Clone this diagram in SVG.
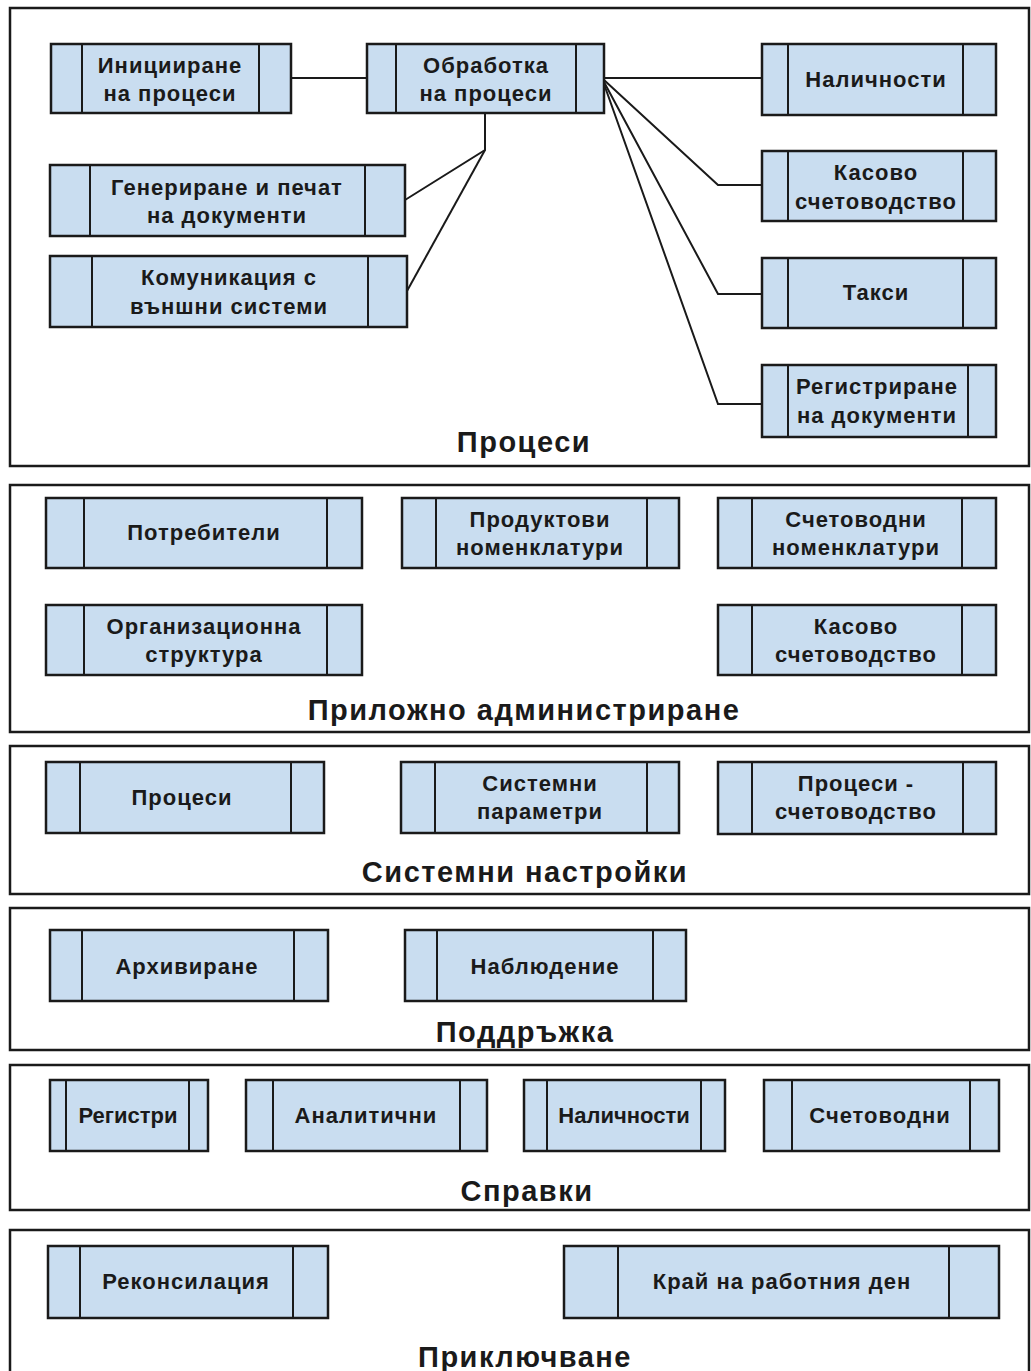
<svg xmlns="http://www.w3.org/2000/svg" width="1031" height="1371" viewBox="0 0 1031 1371">
<defs>
<style>
.frame{fill:#ffffff;stroke:#1a1a1a;stroke-width:2.5}
.box{fill:#c9ddf0;stroke:#1a1a1a;stroke-width:2.5}
.div{stroke:#1a1a1a;stroke-width:2}
.t{font-family:"Liberation Sans",Arial,sans-serif;font-size:22px;font-weight:bold;fill:#1a1a1a;text-anchor:middle;letter-spacing:1px}
.h{font-family:"Liberation Sans",Arial,sans-serif;font-size:29px;font-weight:bold;fill:#1a1a1a;text-anchor:middle;letter-spacing:1.5px}
.c{fill:none;stroke:#1a1a1a;stroke-width:2}
</style>
</defs>
<rect width="1031" height="1371" fill="#ffffff"/>

<!-- section frames -->
<g id="sec-procesi"><rect class="frame" x="10" y="8" width="1019" height="458"/><text class="h" x="524" y="452">Процеси</text></g>
<g id="sec-prilozhno"><rect class="frame" x="10" y="485" width="1019" height="247"/><text class="h" x="524" y="720">Приложно администриране</text></g>
<g id="sec-sistemni"><rect class="frame" x="10" y="746" width="1019" height="148"/><text class="h" x="525" y="882">Системни настройки</text></g>
<g id="sec-poddruzhka"><rect class="frame" x="10" y="908" width="1019" height="142"/><text class="h" x="525" y="1042">Поддръжка</text></g>
<g id="sec-spravki"><rect class="frame" x="10" y="1065" width="1019" height="145"/><text class="h" x="527" y="1201">Справки</text></g>
<g id="sec-prikluchvane"><rect class="frame" x="10" y="1230" width="1019" height="160"/><text class="h" x="525" y="1367">Приключване</text></g>

<!-- connectors -->
<g id="connectors">
<line class="c" x1="291" y1="78" x2="367" y2="78"/>
<polyline class="c" points="485,113 485,150 405,200"/>
<polyline class="c" points="485,150 407,291"/>
<line class="c" x1="604" y1="78" x2="762" y2="78"/>
<polyline class="c" points="604,80 718,185 762,185"/>
<polyline class="c" points="604,82 718,294 762,294"/>
<polyline class="c" points="604,84 718,404 762,404"/>
</g>

<!-- Процеси nodes -->
<g id="n-iniciirane"><rect class="box" x="51" y="44" width="240" height="69"/><line class="div" x1="82" y1="44" x2="82" y2="113"/><line class="div" x1="259" y1="44" x2="259" y2="113"/><text class="t" x="170" y="73">Иницииране</text><text class="t" x="170" y="101">на процеси</text></g>
<g id="n-obrabotka"><rect class="box" x="367" y="44" width="237" height="69"/><line class="div" x1="396" y1="44" x2="396" y2="113"/><line class="div" x1="576" y1="44" x2="576" y2="113"/><text class="t" x="486" y="73">Обработка</text><text class="t" x="486" y="101">на процеси</text></g>
<g id="n-nalichnosti1"><rect class="box" x="762" y="44" width="234" height="71"/><line class="div" x1="788" y1="44" x2="788" y2="115"/><line class="div" x1="963" y1="44" x2="963" y2="115"/><text class="t" x="876" y="87">Наличности</text></g>
<g id="n-generirane"><rect class="box" x="50" y="165" width="355" height="71"/><line class="div" x1="90" y1="165" x2="90" y2="236"/><line class="div" x1="365" y1="165" x2="365" y2="236"/><text class="t" x="227" y="195">Генериране и печат</text><text class="t" x="227" y="223">на документи</text></g>
<g id="n-komunikacia"><rect class="box" x="50" y="256" width="357" height="71"/><line class="div" x1="92" y1="256" x2="92" y2="327"/><line class="div" x1="368" y1="256" x2="368" y2="327"/><text class="t" x="229" y="285">Комуникация с</text><text class="t" x="229" y="314">външни системи</text></g>
<g id="n-kasovo1"><rect class="box" x="762" y="151" width="234" height="70"/><line class="div" x1="788" y1="151" x2="788" y2="221"/><line class="div" x1="963" y1="151" x2="963" y2="221"/><text class="t" x="876" y="180">Касово</text><text class="t" x="876" y="209">счетоводство</text></g>
<g id="n-taksi"><rect class="box" x="762" y="258" width="234" height="70"/><line class="div" x1="788" y1="258" x2="788" y2="328"/><line class="div" x1="963" y1="258" x2="963" y2="328"/><text class="t" x="876" y="300">Такси</text></g>
<g id="n-registrirane"><rect class="box" x="762" y="365" width="234" height="72"/><line class="div" x1="788" y1="365" x2="788" y2="437"/><line class="div" x1="968" y1="365" x2="968" y2="437"/><text class="t" x="877" y="394">Регистриране</text><text class="t" x="877" y="423">на документи</text></g>

<!-- Приложно администриране -->
<g id="n-potrebiteli"><rect class="box" x="46" y="498" width="316" height="70"/><line class="div" x1="84" y1="498" x2="84" y2="568"/><line class="div" x1="327" y1="498" x2="327" y2="568"/><text class="t" x="204" y="540">Потребители</text></g>
<g id="n-produktovi"><rect class="box" x="402" y="498" width="277" height="70"/><line class="div" x1="436" y1="498" x2="436" y2="568"/><line class="div" x1="647" y1="498" x2="647" y2="568"/><text class="t" x="540" y="527">Продуктови</text><text class="t" x="540" y="555">номенклатури</text></g>
<g id="n-schetovodni-nom"><rect class="box" x="718" y="498" width="278" height="70"/><line class="div" x1="752" y1="498" x2="752" y2="568"/><line class="div" x1="962" y1="498" x2="962" y2="568"/><text class="t" x="856" y="527">Счетоводни</text><text class="t" x="856" y="555">номенклатури</text></g>
<g id="n-organizacionna"><rect class="box" x="46" y="605" width="316" height="70"/><line class="div" x1="84" y1="605" x2="84" y2="675"/><line class="div" x1="327" y1="605" x2="327" y2="675"/><text class="t" x="204" y="634">Организационна</text><text class="t" x="204" y="662">структура</text></g>
<g id="n-kasovo2"><rect class="box" x="718" y="605" width="278" height="70"/><line class="div" x1="752" y1="605" x2="752" y2="675"/><line class="div" x1="962" y1="605" x2="962" y2="675"/><text class="t" x="856" y="634">Касово</text><text class="t" x="856" y="662">счетоводство</text></g>

<!-- Системни настройки -->
<g id="n-procesi2"><rect class="box" x="46" y="762" width="278" height="71"/><line class="div" x1="80" y1="762" x2="80" y2="833"/><line class="div" x1="291" y1="762" x2="291" y2="833"/><text class="t" x="182" y="805">Процеси</text></g>
<g id="n-sistemni-param"><rect class="box" x="401" y="762" width="278" height="71"/><line class="div" x1="435" y1="762" x2="435" y2="833"/><line class="div" x1="647" y1="762" x2="647" y2="833"/><text class="t" x="540" y="791">Системни</text><text class="t" x="540" y="819">параметри</text></g>
<g id="n-procesi-schet"><rect class="box" x="718" y="762" width="278" height="72"/><line class="div" x1="752" y1="762" x2="752" y2="834"/><line class="div" x1="963" y1="762" x2="963" y2="834"/><text class="t" x="856" y="791">Процеси -</text><text class="t" x="856" y="819">счетоводство</text></g>

<!-- Поддръжка -->
<g id="n-arhivirane"><rect class="box" x="50" y="930" width="278" height="71"/><line class="div" x1="82" y1="930" x2="82" y2="1001"/><line class="div" x1="294" y1="930" x2="294" y2="1001"/><text class="t" x="187" y="974">Архивиране</text></g>
<g id="n-nabludenie"><rect class="box" x="405" y="930" width="281" height="71"/><line class="div" x1="437" y1="930" x2="437" y2="1001"/><line class="div" x1="653" y1="930" x2="653" y2="1001"/><text class="t" x="545" y="974">Наблюдение</text></g>

<!-- Справки -->
<g id="n-registri"><rect class="box" x="50" y="1080" width="158" height="71"/><line class="div" x1="66" y1="1080" x2="66" y2="1151"/><line class="div" x1="189" y1="1080" x2="189" y2="1151"/><text class="t" x="128" y="1123" style="letter-spacing:0">Регистри</text></g>
<g id="n-analitichni"><rect class="box" x="246" y="1080" width="241" height="71"/><line class="div" x1="273" y1="1080" x2="273" y2="1151"/><line class="div" x1="460" y1="1080" x2="460" y2="1151"/><text class="t" x="366" y="1123">Аналитични</text></g>
<g id="n-nalichnosti2"><rect class="box" x="524" y="1080" width="201" height="71"/><line class="div" x1="547" y1="1080" x2="547" y2="1151"/><line class="div" x1="701" y1="1080" x2="701" y2="1151"/><text class="t" x="624" y="1123" style="letter-spacing:0">Наличности</text></g>
<g id="n-schetovodni"><rect class="box" x="764" y="1080" width="235" height="71"/><line class="div" x1="792" y1="1080" x2="792" y2="1151"/><line class="div" x1="970" y1="1080" x2="970" y2="1151"/><text class="t" x="880" y="1123">Счетоводни</text></g>

<!-- Приключване -->
<g id="n-rekonsilacia"><rect class="box" x="48" y="1246" width="280" height="72"/><line class="div" x1="80" y1="1246" x2="80" y2="1318"/><line class="div" x1="293" y1="1246" x2="293" y2="1318"/><text class="t" x="186" y="1289">Реконсилация</text></g>
<g id="n-kraj"><rect class="box" x="564" y="1246" width="435" height="72"/><line class="div" x1="618" y1="1246" x2="618" y2="1318"/><line class="div" x1="949" y1="1246" x2="949" y2="1318"/><text class="t" x="782" y="1289">Край на работния ден</text></g>
</svg>
